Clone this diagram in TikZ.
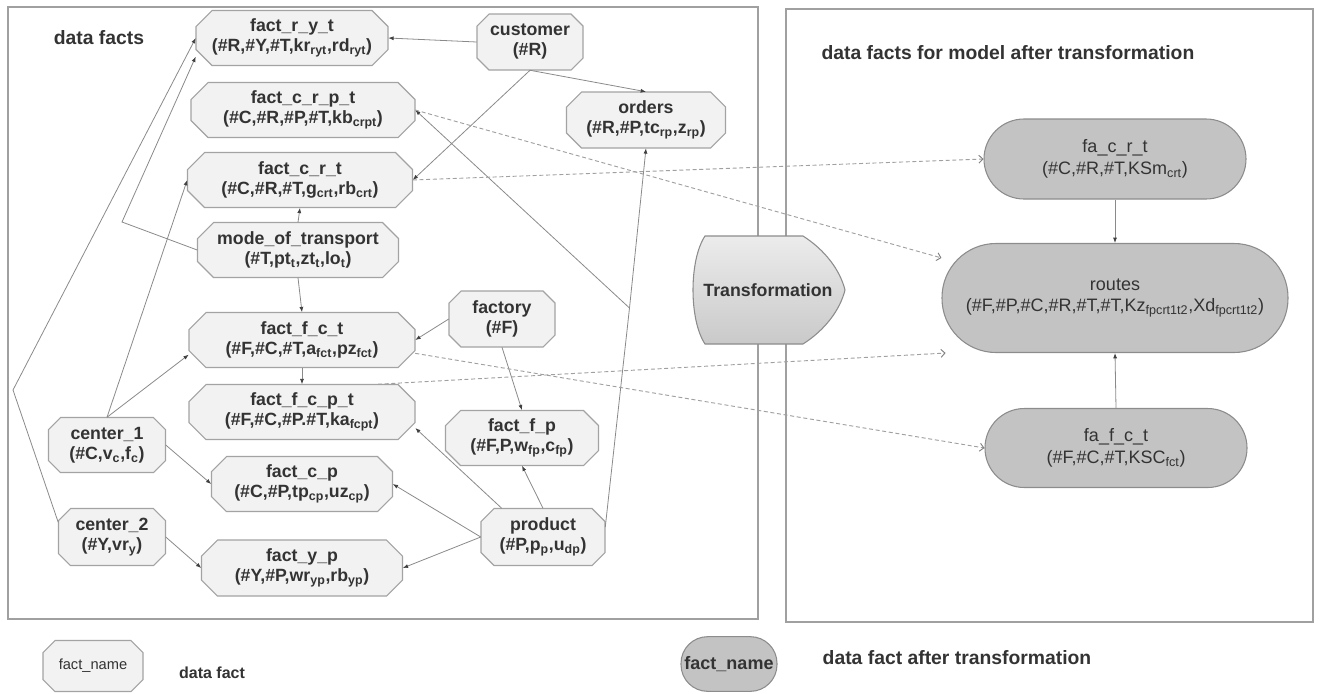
\documentclass[tikz,border=0pt]{standalone}
\usepackage{fontspec}
\setmainfont{Liberation Sans}
\usetikzlibrary{arrows.meta}
\definecolor{txt}{HTML}{333333}
\definecolor{octfill}{HTML}{F2F2F2}
\definecolor{octline}{HTML}{A3A3A3}
\definecolor{rfill}{HTML}{C3C3C3}
\definecolor{rline}{HTML}{8C8C8C}
\definecolor{edgecol}{HTML}{8A8A8A}
\definecolor{dedgecol}{HTML}{A0A0A0}
\definecolor{panelcol}{HTML}{A0A0A0}
\tikzset{
  octshape/.style={fill=octfill,draw=octline,line width=0.8pt},
  octtext/.style={text=txt,font=\fontsize{13.3}{15}\selectfont\bfseries,align=center,inner sep=0pt},
  rnd/.style={rectangle,fill=rfill,draw=rline,line width=0.8pt,text=txt,
    font=\fontsize{13.5}{16}\selectfont,align=center,inner sep=0pt},
  panel/.style={draw=panelcol,line width=0.9pt},
  heading/.style={text=txt,font=\fontsize{14.5}{17}\selectfont\bfseries,inner sep=0pt},
  link/.style={draw=edgecol,line width=0.6pt,-{Latex[length=4pt,width=3pt,color=black!75]}},
  plainlink/.style={draw=edgecol,line width=0.6pt},
  dlink/.style={draw=dedgecol,line width=0.7pt,dash pattern=on 3pt off 2pt,
    -{Straight Barb[length=3pt,width=6pt,color=gray]}},
}
% name, cx, cy, w, h, chamfer, text
\newcommand\octnode[7]{%
  \pgfmathsetmacro\ohw{#4/2}\pgfmathsetmacro\ohh{#5/2}%
  \filldraw[octshape] (#2-\ohw+#6,#3-\ohh) -- (#2+\ohw-#6,#3-\ohh) -- (#2+\ohw,#3-\ohh+#6)
    -- (#2+\ohw,#3+\ohh-#6) -- (#2+\ohw-#6,#3+\ohh) -- (#2-\ohw+#6,#3+\ohh)
    -- (#2-\ohw,#3+\ohh-#6) -- (#2-\ohw,#3-\ohh+#6) -- cycle;
  \node[octtext,minimum width=#4*0.75pt,minimum height=#5*0.75pt] (#1) at (#2,#3) {#7};}
\begin{document}
\begin{tikzpicture}[x=0.75pt,y=-0.75pt]
\useasboundingbox (0,0) rectangle (1321,693);
% panels
\draw[panel] (8,7) rectangle (758,619);
\draw[panel] (786,9) rectangle (1313,622);
\node[heading] (lblleft) at (99,38) {data facts};
\node[heading] (lblright) at (1008,53) {data facts for model after transformation};

% left nodes
\octnode{fryt}{292}{38}{192}{55}{16}{fact\_r\_y\_t\\(\#R,\#Y,\#T,kr\textsubscript{ryt},rd\textsubscript{ryt})}
\octnode{cust}{530}{42}{106}{56}{12}{customer\\(\#R)}
\octnode{fcrpt}{303}{110}{224}{55}{17}{fact\_c\_r\_p\_t\\(\#C,\#R,\#P,\#T,kb\textsubscript{crpt})}
\octnode{orders}{646}{120}{159}{56}{15}{orders\\(\#R,\#P,tc\textsubscript{rp},z\textsubscript{rp})}
\octnode{fcrt}{300}{180}{225}{55}{17}{fact\_c\_r\_t\\(\#C,\#R,\#T,g\textsubscript{crt},rb\textsubscript{crt})}
\octnode{mot}{298}{250}{201}{55}{16}{mode\_of\_transport\\(\#T,pt\textsubscript{t},zt\textsubscript{t},lo\textsubscript{t})}
\octnode{ffct}{302}{340}{226}{55}{17}{fact\_f\_c\_t\\(\#F,\#C,\#T,a\textsubscript{fct},pz\textsubscript{fct})}
\octnode{fact}{502}{319}{106}{56}{12}{factory\\(\#F)}
\octnode{ffcpt}{302}{412}{226}{55}{17}{fact\_f\_c\_p\_t\\(\#F,\#C,\#P.\#T,ka\textsubscript{fcpt})}
\octnode{ffp}{522}{438}{153}{55}{15}{fact\_f\_p\\(\#F,P,w\textsubscript{fp},c\textsubscript{fp})}
\octnode{c1}{107}{445}{117}{55}{12}{center\_1\\(\#C,v\textsubscript{c},f\textsubscript{c})}
\octnode{fcp}{302}{484}{181}{55}{15}{fact\_c\_p\\(\#C,\#P,tp\textsubscript{cp},uz\textsubscript{cp})}
\octnode{c2}{112}{537}{107}{57}{12}{center\_2\\(\#Y,vr\textsubscript{y})}
\octnode{fyp}{302}{568}{201}{56}{16}{fact\_y\_p\\(\#Y,\#P,wr\textsubscript{yp},rb\textsubscript{yp})}
\octnode{prod}{543}{537}{124}{57}{13}{product\\(\#P,p\textsubscript{p},u\textsubscript{dp})}

% transformation
\shadedraw[top color=gray!15,bottom color=gray!42,draw=rline,line width=0.8pt]
  (705,236) -- (803,236) .. controls (825,250) and (840,270) .. (845,290)
  .. controls (840,310) and (825,330) .. (803,344) -- (705,344)
  .. controls (689,320) and (689,260) .. (705,236) -- cycle;
\node[text=txt,font=\fontsize{13.3}{15}\selectfont\bfseries] (trans) at (768,290) {Transformation};

% right nodes
\node[rnd,rounded corners=30pt,minimum width=196.5pt,minimum height=60pt] (facrt) at (1115,159)
  {fa\_c\_r\_t\\(\#C,\#R,\#T,KSm\textsubscript{crt})};
\node[rnd,rounded corners=40.5pt,minimum width=259.5pt,minimum height=81.75pt] (routes) at (1115,298)
  {routes\\(\#F,\#P,\#C,\#R,\#T,\#T,Kz\textsubscript{fpcrt1t2},Xd\textsubscript{fpcrt1t2})};
\node[rnd,rounded corners=29.5pt,minimum width=196.5pt,minimum height=59.25pt] (fafct) at (1116,448)
  {fa\_f\_c\_t\\(\#F,\#C,\#T,KSC\textsubscript{fct})};

% helper coordinates
\coordinate (m1) at (122,222);
\coordinate (m2) at (13,390);
\coordinate (j) at (629.5,308);

% solid connectors
\draw[link] (cust.west) -- (fryt.east);
\draw[link] (cust.south) -- (orders.north);
\draw[link] (cust.south) -- (fcrt.east);
\draw[link] (mot.north) -- (fcrt.south);
\draw[link] (mot.west) -- (m1) -- ([yshift=-14pt]fryt.west);
\draw[link] (c1.north) -- (fcrt.west);
\draw[link] (c1.north) -- ([yshift=-11pt]ffct.west);
\draw[link] (c1.east) -- (fcp.west);
\draw[link] (c2.east) -- (fyp.west);
\draw[link] ([yshift=11pt]c2.west) -- (m2) -- (fryt.west);
\draw[link] (mot.south) -- (ffct.north);
\draw[link] (ffct.south) -- (ffcpt.north);
\draw[link] (fact.west) -- (ffct.east);
\draw[link] (fact.south) -- (ffp.north);
\draw[link] (prod.north) -- (ffp.south);
\draw[link] ([xshift=-31pt]prod.north) -- ([yshift=-12pt]ffcpt.east);
\draw[link] (prod.west) -- (fcp.east);
\draw[link] (prod.west) -- (fyp.east);
\draw[plainlink] ([yshift=7.5pt]prod.east) -- (j);
\draw[link] (j) -- (orders.south);
\draw[link] (j) -- (fcrpt.east);
\draw[link] (facrt.south) -- (routes.north);
\draw[link] (fafct.north) -- (routes.south);

% dashed connectors
\draw[dlink] (fcrt.east) -- (facrt.west);
\draw[dlink] (fcrpt.east) -- (routes.167);
\draw[dlink] ([xshift=-28pt]ffcpt.north east) -- (routes.198);
\draw[dlink] ([yshift=-10pt]ffct.east) -- (fafct.west);

% legend
\octnode{lgoct}{93}{666}{100}{51}{12}{\fontsize{11}{13}\selectfont\mdseries fact\_name}
\node[text=txt,font=\fontsize{12}{15}\selectfont\bfseries] (lgtxt1) at (212,673) {data fact};
\node[rnd,rounded corners=20pt,minimum width=72pt,minimum height=41pt,font=\fontsize{13.5}{16}\selectfont\bfseries] (lgrnd) at (729,664) {fact\_name};
\node[heading] (lgtxt2) at (957,658) {data fact after transformation};
\end{tikzpicture}
\end{document}
